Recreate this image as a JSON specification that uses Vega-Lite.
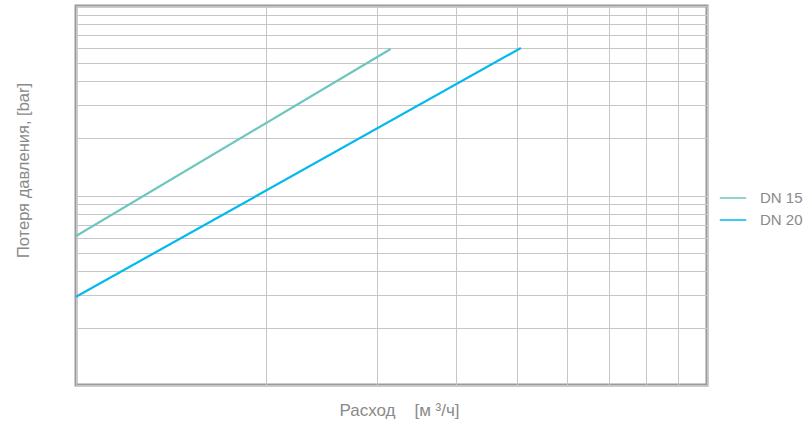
{
  "$schema": "https://vega.github.io/schema/vega-lite/v6.json",
  "width": 631,
  "height": 379,
  "autosize": "none",
  "padding": {"left": 76, "top": 6, "right": 99, "bottom": 48},
  "background": "white",
  "config": {
    "view": {"stroke": "#9a9a9a", "strokeWidth": 3},
    "font": "Liberation Sans"
  },
  "data": {
    "values": [
      {"q": 1, "dp": 6.11, "series": "DN 15"},
      {"q": 3.153, "dp": 59.3, "series": "DN 15"},
      {"q": 1, "dp": 2.92, "series": "DN 20"},
      {"q": 5.07, "dp": 60.0, "series": "DN 20"}
    ]
  },
  "mark": {"type": "line", "strokeWidth": 2.2, "clip": true},
  "encoding": {
    "x": {
      "field": "q",
      "type": "quantitative",
      "scale": {"type": "log", "domain": [1, 10], "nice": false},
      "axis": {
        "title": "Расход\u00a0\u00a0\u00a0\u00a0[м\u00a0³/ч]",
        "titleFont": "Liberation Sans",
        "titleFontSize": 17,
        "titleFontWeight": "normal",
        "titleColor": "#8a8a8a",
        "titleX": 323,
        "titleY": 17,
        "values": [1, 2, 3, 4, 5, 6, 7, 8, 9, 10],
        "labels": false,
        "ticks": false,
        "domain": false,
        "grid": true,
        "gridColor": "#c6c6c6",
        "gridWidth": 1
      }
    },
    "y": {
      "field": "dp",
      "type": "quantitative",
      "scale": {"type": "log", "domain": [1, 100], "nice": false},
      "axis": {
        "title": "Потеря давления, [bar]",
        "titleFont": "Liberation Sans",
        "titleFontSize": 16.5,
        "titleFontWeight": "normal",
        "titleColor": "#8a8a8a",
        "titlePadding": 45,
        "titleY": 164,
        "values": [1, 2, 3, 4, 5, 6, 7, 8, 9, 10, 20, 30, 40, 50, 60, 70, 80, 90, 100],
        "labels": false,
        "ticks": false,
        "domain": false,
        "grid": true,
        "gridColor": "#c6c6c6",
        "gridWidth": 1
      }
    },
    "color": {
      "field": "series",
      "type": "nominal",
      "scale": {"domain": ["DN 15", "DN 20"], "range": ["#6cc6be", "#00b9ef"]},
      "legend": {
        "title": null,
        "orient": "none",
        "legendX": 643,
        "legendY": 178,
        "symbolType": "stroke",
        "symbolSize": 700,
        "symbolStrokeWidth": 1.5,
        "labelFont": "Liberation Sans",
        "labelFontSize": 15,
        "labelColor": "#8a8a8a",
        "labelOffset": 13,
        "rowPadding": 0
      }
    }
  }
}
